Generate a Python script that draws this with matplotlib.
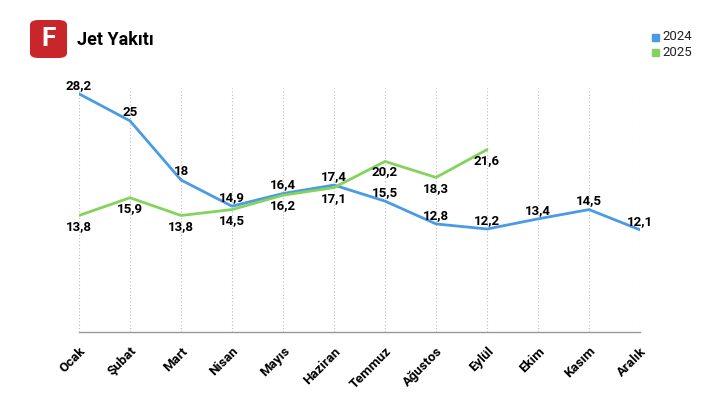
import matplotlib.pyplot as plt
from matplotlib.patches import FancyBboxPatch

plt.rcParams['font.family'] = ['Roboto', 'DejaVu Sans']

# veriler
aylar = ['Ocak', 'Şubat', 'Mart', 'Nisan', 'Mayıs', 'Haziran', 'Temmuz',
         'Ağustos', 'Eylül', 'Ekim', 'Kasım', 'Aralık']
y2024 = [28.2, 25, 18, 14.9, 16.4, 17.4, 15.5, 12.8, 12.2, 13.4, 14.5, 12.1]
y2025 = [13.8, 15.9, 13.8, 14.5, 16.2, 17.1, 20.2, 18.3, 21.6]

mavi = '#4a9be6'
yesil = '#84d35c'

fig = plt.figure(figsize=(7.2, 4.05), dpi=100)
ax = fig.add_axes([0.1097, 0.18, 0.7793, 0.603])

x24 = list(range(len(y2024)))
x25 = list(range(len(y2025)))
ax.plot(x24, y2024, color=mavi, lw=2, solid_capstyle='round')
ax.plot(x25, y2025, color=yesil, lw=2, solid_capstyle='round')

def fmt(v):
    s = ('%.1f' % v).rstrip('0').rstrip('.')
    return s.replace('.', ',')

for x, v in zip(x24, y2024):
    ax.annotate(fmt(v), (x, v), xytext=(0, 1.5), textcoords='offset points',
                ha='center', va='bottom', fontsize=9.5, fontweight='bold')
for x, v in zip(x25, y2025):
    ax.annotate(fmt(v), (x, v), xytext=(0, -3), textcoords='offset points',
                ha='center', va='top', fontsize=9.5, fontweight='bold')

ax.set_xlim(0, 11)
ax.set_ylim(0, 28.9)
ax.set_xticks(x24)
ax.set_xticklabels(aylar, rotation=45, ha='right', va='top',
                   rotation_mode='anchor', fontsize=9.5, fontweight='bold')
ax.tick_params(axis='x', length=0, pad=9)
ax.set_yticks([])
ax.grid(axis='x', color='#bbbbbb', ls=(0, (1, 2)), lw=0.8)
for s in ['top', 'right', 'left']:
    ax.spines[s].set_visible(False)
ax.spines['bottom'].set_color('#999999')
ax.spines['bottom'].set_linewidth(1)

# logo ve baslik
logo = FancyBboxPatch((30 / 720, 1 - 58 / 405), 37 / 720, 38 / 405,
                      boxstyle='round,pad=0,rounding_size=0.012',
                      transform=fig.transFigure, facecolor='#c8262b',
                      edgecolor='none')
fig.patches.append(logo)
fig.text(48.5 / 720, 1 - 39.5 / 405, 'F', color='white', fontsize=19,
         fontweight='bold', ha='center', va='center')
fig.text(77 / 720, 1 - 40 / 405, 'Jet Yakıtı', fontsize=13,
         fontweight='bold', ha='left', va='center')

# lejant
for i, (lbl, c) in enumerate([('2024', mavi), ('2025', yesil)]):
    yy = 1 - (37 + i * 15) / 405
    fig.patches.append(plt.Rectangle((652 / 720, yy - 3.5 / 405), 7 / 720, 7 / 405,
                                     transform=fig.transFigure, color=c))
    fig.text(662 / 720, yy, lbl, fontsize=9.5, ha='left', va='center',
             color='#222222')

fig.savefig('out.png', dpi=100)
